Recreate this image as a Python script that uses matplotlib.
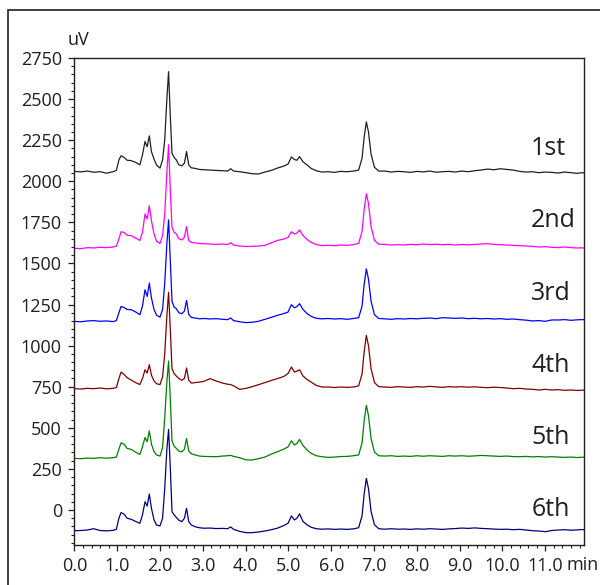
import matplotlib
matplotlib.use("Agg")
import matplotlib.pyplot as plt
from matplotlib.patches import Rectangle
from matplotlib.ticker import MultipleLocator

# retention time grid (min), shared by all six runs
t = [
    0.00, 0.15, 0.30, 0.45, 0.60, 0.75, 0.90, 0.98,
    1.04, 1.09, 1.16, 1.23, 1.33, 1.43, 1.53, 1.59,
    1.65, 1.70, 1.75, 1.80, 1.86, 1.92, 2.00, 2.06,
    2.11, 2.16, 2.20, 2.24, 2.28, 2.33, 2.38, 2.44,
    2.51, 2.57, 2.62, 2.67, 2.73, 2.82, 2.92, 3.02,
    3.17, 3.31, 3.46, 3.58, 3.65, 3.72, 3.86, 4.01,
    4.15, 4.30, 4.45, 4.60, 4.74, 4.89, 4.99, 5.07,
    5.14, 5.20, 5.26, 5.34, 5.44, 5.53, 5.65, 5.78,
    5.93, 6.08, 6.22, 6.37, 6.52, 6.64, 6.72, 6.77,
    6.82, 6.87, 6.93, 7.01, 7.11, 7.25, 7.40, 7.55,
    7.70, 7.85, 8.00, 8.15, 8.30, 8.45, 8.60, 8.75,
    8.90, 9.05, 9.20, 9.35, 9.50, 9.65, 9.80, 9.95,
    10.10, 10.25, 10.40, 10.55, 10.70, 10.85, 11.00, 11.15,
    11.30, 11.45, 11.60, 11.75, 11.85, 11.95,
]

run1 = [
    2060, 2057, 2062, 2055, 2058, 2049, 2058, 2066,
    2130, 2155, 2145, 2128, 2125, 2115, 2100, 2160,
    2242, 2210, 2276, 2180, 2135, 2098, 2080, 2130,
    2250, 2500, 2667, 2400, 2170, 2145, 2130, 2100,
    2094, 2110, 2181, 2100, 2082, 2078, 2072, 2070,
    2068, 2066, 2064, 2062, 2076, 2062, 2058, 2052,
    2046, 2044, 2056, 2066, 2080, 2092, 2104, 2148,
    2132, 2128, 2150, 2118, 2098, 2078, 2064, 2056,
    2058, 2054, 2060, 2058, 2062, 2068, 2140, 2270,
    2361, 2300, 2165, 2085, 2062, 2062, 2056, 2060,
    2058, 2054, 2060, 2057, 2062, 2055, 2058, 2060,
    2056, 2062, 2058, 2064, 2068, 2074, 2070, 2076,
    2072, 2068, 2060, 2056, 2058, 2052, 2056, 2054,
    2050, 2056, 2052, 2048, 2052, 2050,
]

run2 = [
    1592, 1590, 1596, 1594, 1598, 1596, 1600, 1605,
    1650, 1693, 1688, 1672, 1668, 1655, 1640, 1690,
    1801, 1771, 1851, 1760, 1680, 1635, 1622, 1670,
    1800, 2050, 2222, 1950, 1720, 1689, 1680, 1650,
    1643, 1660, 1724, 1640, 1628, 1625, 1622, 1620,
    1618, 1616, 1618, 1615, 1626, 1612, 1606, 1603,
    1604, 1606, 1610, 1625, 1640, 1648, 1658, 1693,
    1679, 1685, 1704, 1670, 1645, 1628, 1615, 1608,
    1610, 1608, 1612, 1610, 1614, 1622, 1695, 1830,
    1924, 1865, 1725, 1640, 1617, 1616, 1612, 1614,
    1612, 1616, 1614, 1618, 1615, 1617, 1614, 1616,
    1612, 1615, 1613, 1616, 1618, 1620, 1616, 1614,
    1612, 1610, 1608, 1606, 1604, 1600, 1602, 1598,
    1596, 1600, 1596, 1594, 1595, 1592,
]

run3 = [
    1147, 1145, 1150, 1152, 1148, 1150, 1146, 1152,
    1200, 1238, 1232, 1220, 1218, 1205, 1188, 1240,
    1340, 1299, 1380, 1290, 1220, 1185, 1173, 1220,
    1380, 1620, 1765, 1520, 1270, 1234, 1225, 1200,
    1194, 1210, 1275, 1190, 1172, 1168, 1163, 1165,
    1162, 1164, 1160, 1158, 1168, 1152, 1145, 1140,
    1142, 1148, 1160, 1172, 1184, 1195, 1204, 1249,
    1230, 1238, 1255, 1220, 1194, 1178, 1166, 1163,
    1165, 1162, 1164, 1160, 1165, 1170, 1240, 1375,
    1467, 1405, 1270, 1188, 1165, 1163, 1160, 1164,
    1162, 1165, 1163, 1166, 1168, 1164, 1170, 1168,
    1166, 1168, 1164, 1166, 1163, 1165, 1162, 1164,
    1160, 1162, 1158, 1155, 1150, 1152, 1148, 1156,
    1156, 1158, 1154, 1157, 1158, 1157,
]

run4 = [
    738, 736, 740, 738, 742, 737, 740, 745,
    800, 839, 825, 805, 790, 775, 763, 800,
    853, 833, 884, 820, 785, 768, 763, 810,
    950, 1180, 1325, 1100, 860, 830, 815, 800,
    789, 800, 864, 790, 772, 775, 778, 782,
    799, 785, 772, 765, 763, 755, 734, 740,
    750, 762, 775, 788, 799, 812, 830, 870,
    839, 845, 853, 815, 793, 778, 758, 748,
    748, 745, 748, 746, 748, 755, 828, 965,
    1062, 1000, 860, 775, 750, 748, 746, 750,
    748, 746, 750, 748, 752, 749, 746, 750,
    748, 750, 747, 749, 746, 744, 747, 745,
    742, 738, 740, 736, 734, 730, 734, 730,
    732, 728, 730, 727, 729, 728,
]

run5 = [
    314, 312, 316, 314, 318, 315, 318, 322,
    370, 409, 400, 375, 368, 352, 338, 385,
    441, 415, 481, 400, 355, 335, 328, 380,
    560, 780, 906, 680, 420, 388, 375, 358,
    354, 370, 435, 360, 342, 335, 328, 326,
    325, 324, 328, 330, 332, 326, 318, 305,
    304, 312, 322, 340, 354, 370, 384, 421,
    395, 405, 429, 392, 364, 345, 330, 324,
    320, 322, 325, 326, 330, 335, 408, 545,
    637, 575, 435, 352, 330, 328, 330, 326,
    328, 326, 330, 327, 330, 328, 326, 330,
    328, 330, 327, 329, 332, 330, 328, 326,
    328, 325, 324, 326, 323, 325, 322, 324,
    322, 320, 322, 319, 321, 320,
]

run6 = [
    -126, -125, -122, -114, -125, -127, -124, -118,
    -50, -16, -25, -50, -57, -70, -81, -30,
    50, 24, 97, 10, -60, -92, -97, -50,
    130, 370, 490, 260, -10, -30, -45, -62,
    -71, -50, 10, -70, -91, -102, -108, -111,
    -110, -113, -112, -114, -103, -118, -130, -138,
    -138, -134, -128, -120, -111, -95, -81, -36,
    -61, -50, -24, -70, -91, -105, -114, -117,
    -115, -118, -116, -118, -115, -108, -35, 100,
    192, 130, -8, -90, -114, -117, -114, -117,
    -116, -118, -115, -117, -114, -116, -118, -115,
    -113, -110, -112, -109, -112, -114, -116, -118,
    -117, -120, -118, -122, -126, -128, -132, -125,
    -122, -120, -123, -121, -119, -121,
]

runs = [run1, run2, run3, run4, run5, run6]
run_labels = ["1st", "2nd", "3rd", "4th", "5th", "6th"]
label_levels = [2200, 1760, 1320, 880, 440, 0]
colors = ["#231f20", "#ff00ff", "#0000ff", "#800000", "#008000", "#000080"]

ink = "#231f20"
plt.rcParams["font.family"] = ["Open Sans", "DejaVu Sans"]

fig = plt.figure(figsize=(6.0, 5.85), dpi=100)
ax = fig.add_axes([0.124, 0.0684, 0.849, 0.8325])

# outer frame, runs off the right and bottom edges
fig.patches.append(Rectangle((8 / 600, -0.2), 1.2, 1.2 - 10 / 585,
                             transform=fig.transFigure, fill=False,
                             edgecolor=ink, linewidth=1.2, clip_on=False))

for y, c in zip(runs, colors):
    ax.plot(t, y, color=c, linewidth=0.9)

for lab, lev in zip(run_labels, label_levels):
    ax.text(10.67, lev, lab, fontsize=18, color=ink, ha="left", va="center")

ax.set_xlim(0, 11.9)
ax.set_ylim(-213, 2750)
ax.set_xticks([0, 1, 2, 3, 4, 5, 6, 7, 8, 9, 10, 11])
ax.set_xticklabels([f"{v:.1f}" for v in range(12)])
ax.xaxis.set_minor_locator(MultipleLocator(0.2))
ax.set_yticks([0, 250, 500, 750, 1000, 1250, 1500, 1750, 2000, 2250, 2500, 2750])
ax.yaxis.set_minor_locator(MultipleLocator(50))

ax.tick_params(which="major", direction="out", length=4, width=0.9,
               color=ink, labelcolor=ink, labelsize=13, pad=5)
ax.tick_params(which="minor", direction="out", length=2, width=0.8, color=ink)
ax.tick_params(axis="x", top=False)
ax.tick_params(axis="y", right=False)
for s in ax.spines.values():
    s.set_color(ink)
    s.set_linewidth(1.0)

fig.text(68 / 600, 1 - 40 / 585, "uV", fontsize=13, color=ink,
         ha="left", va="center")
fig.text(599 / 600, 1 - 565 / 585, "min", fontsize=13, color=ink,
         ha="right", va="center")

fig.savefig("out.png", dpi=100)
